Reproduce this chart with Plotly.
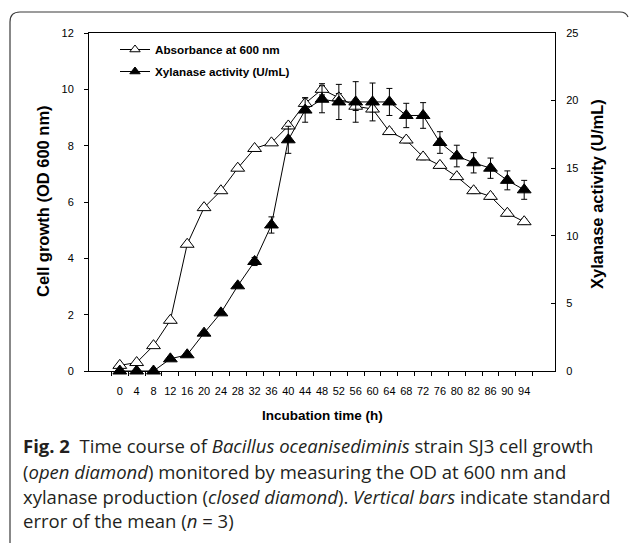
import plotly.graph_objects as go

# ---- data ----
time_labels = ["0", "4", "8", "12", "16", "20", "24", "28", "32", "36", "40", "44", "48",
               "52", "56", "60", "64", "68", "72", "76", "80", "82", "86", "90", "94"]
od600 = [0.2, 0.3, 0.9, 1.8, 4.5, 5.8, 6.4, 7.2, 7.9, 8.1, 8.7, 9.5, 10.0,
         9.7, 9.4, 9.3, 8.5, 8.2, 7.6, 7.3, 6.9, 6.4, 6.2, 5.6, 5.3]
od600_err = [0, 0, 0, 0, 0, 0, 0, 0, 0, 0, 0.1, 0.2, 0.2,
             0.15, 0.15, 0.1, 0.1, 0.1, 0.1, 0.1, 0.1, 0.1, 0.1, 0.1, 0.1]
xylanase = [0, 0, 0, 0.9, 1.2, 2.8, 4.3, 6.3, 8.1, 10.8, 17.1, 19.3, 20.1,
            19.9, 19.9, 19.9, 19.9, 18.9, 18.9, 16.9, 15.9, 15.4, 15.0, 14.1, 13.4]
xylanase_err = [0, 0, 0, 0, 0, 0, 0, 0, 0.3, 0.6, 1.0, 0.9, 1.0,
                1.3, 1.5, 1.4, 1.0, 0.9, 0.95, 0.8, 0.8, 0.75, 0.75, 0.7, 0.7]

W, H = 629, 543
L, R, T, B = 89, 555, 33, 371


def px(x):
    return (x - L) / (R - L)


def py(y):
    return (B - y) / (B - T)


fig = go.Figure()

fig.add_trace(go.Scatter(
    x=time_labels, y=od600, mode="lines+markers", name="Absorbance at 600 nm",
    line=dict(color="black", width=1),
    marker=dict(symbol="triangle-up", size=12, color="white", line=dict(color="black", width=1)),
    error_y=dict(type="data", array=od600_err, color="black", thickness=1, width=3),
    showlegend=False, yaxis="y", cliponaxis=False,
))
fig.add_trace(go.Scatter(
    x=time_labels, y=xylanase, mode="lines+markers", name="Xylanase activity (U/mL)",
    line=dict(color="black", width=1),
    marker=dict(symbol="triangle-up", size=12, color="black", line=dict(color="black", width=1)),
    error_y=dict(type="data", array=xylanase_err, color="black", thickness=1, width=3),
    showlegend=False, yaxis="y2", cliponaxis=False,
))
# legend entries
fig.add_trace(go.Scatter(
    x=[None], y=[None], mode="lines+markers", name="Absorbance at 600 nm",
    line=dict(color="black", width=1),
    marker=dict(symbol="triangle-up", size=9, color="white", line=dict(color="black", width=1)),
    legendgroup="a", legend="legend",
))
fig.add_trace(go.Scatter(
    x=[None], y=[None], mode="lines+markers", name="Xylanase activity (U/mL)",
    line=dict(color="black", width=1),
    marker=dict(symbol="triangle-up", size=9, color="black", line=dict(color="black", width=1)),
    legendgroup="b", legend="legend2",
))

axis_font = dict(family="Arial, Liberation Sans, sans-serif", size=11, color="black")
leg_font = dict(family="Arial, Liberation Sans, sans-serif", size=11.7, color="black", weight="bold")

fig.update_layout(
    width=W, height=H,
    margin=dict(l=L, r=W - R, t=T, b=H - B),
    paper_bgcolor="white", plot_bgcolor="white",
    font=axis_font,
    xaxis=dict(
        type="category", tickson="boundaries", showgrid=False,
        showline=True, linecolor="black", linewidth=1, mirror=True,
        ticks="outside", ticklen=4, tickcolor="black", tickwidth=1,
        tickfont=axis_font, ticklabelstandoff=10, tickangle=0,
    ),
    yaxis=dict(
        range=[0, 12], dtick=2, showgrid=False, zeroline=False,
        showline=True, linecolor="black", linewidth=1,
        ticks="outside", ticklen=4, tickcolor="black",
        tickfont=axis_font, ticklabelstandoff=8,
    ),
    yaxis2=dict(
        range=[0, 25], dtick=5, overlaying="y", side="right", showgrid=False, zeroline=False,
        showline=True, linecolor="black", linewidth=1,
        ticks="inside", ticklen=4, tickcolor="black",
        tickfont=axis_font, ticklabelstandoff=8,
    ),
    legend=dict(
        x=px(115), y=py(35), xanchor="left", yanchor="top",
        bgcolor="rgba(0,0,0,0)", itemwidth=30, font=leg_font,
    ),
    legend2=dict(
        x=px(115), y=py(57), xanchor="left", yanchor="top",
        bgcolor="rgba(0,0,0,0)", itemwidth=30, font=leg_font,
    ),
)

title_font = dict(family="Arial, Liberation Sans, sans-serif", size=16.5, color="black")
fig.add_annotation(text="<b>Cell growth (OD 600 nm)</b>", xref="paper", yref="paper",
                   x=px(43), y=py(201), textangle=-90, showarrow=False, font=title_font,
                   xanchor="center", yanchor="middle")
fig.add_annotation(text="<b>Xylanase activity (U/mL)</b>", xref="paper", yref="paper",
                   x=px(597), y=py(194), textangle=-90, showarrow=False, font=title_font,
                   xanchor="center", yanchor="middle")
fig.add_annotation(text="<b>Incubation time (h)</b>", xref="paper", yref="paper",
                   x=px(322), y=py(416), showarrow=False,
                   font=dict(family="Arial, Liberation Sans, sans-serif", size=13.5, color="black"),
                   xanchor="center", yanchor="middle")

cap_font = dict(family="Open Sans, Noto Sans, sans-serif", size=18.5, color="#231f20")
caption_lines = [
    "<b>Fig. 2</b>  Time course of <i>Bacillus oceanisediminis</i> strain SJ3 cell growth",
    "(<i>open diamond</i>) monitored by measuring the OD at 600 nm and",
    "xylanase production (<i>closed diamond</i>). <i>Vertical bars</i> indicate standard",
    "error of the mean (<i>n</i> = 3)",
]
caption_y = [446, 471, 496, 520]
for line, yy in zip(caption_lines, caption_y):
    fig.add_annotation(text=line, xref="paper", yref="paper", x=px(21), y=py(yy),
                       xanchor="left", yanchor="middle", showarrow=False, font=cap_font,
                       align="left")

# frame
path = (f"M {px(10)},{py(548)} L {px(10)},{py(22)} Q {px(10)},{py(12)} {px(20)},{py(12)} "
        f"L {px(620)},{py(12)} Q {px(626)},{py(12)} {px(628)},{py(17)}")
fig.add_shape(type="path", path=path, xref="paper", yref="paper",
              line=dict(color="#3a3a3a", width=1.2))

fig.write_html("out.html")
